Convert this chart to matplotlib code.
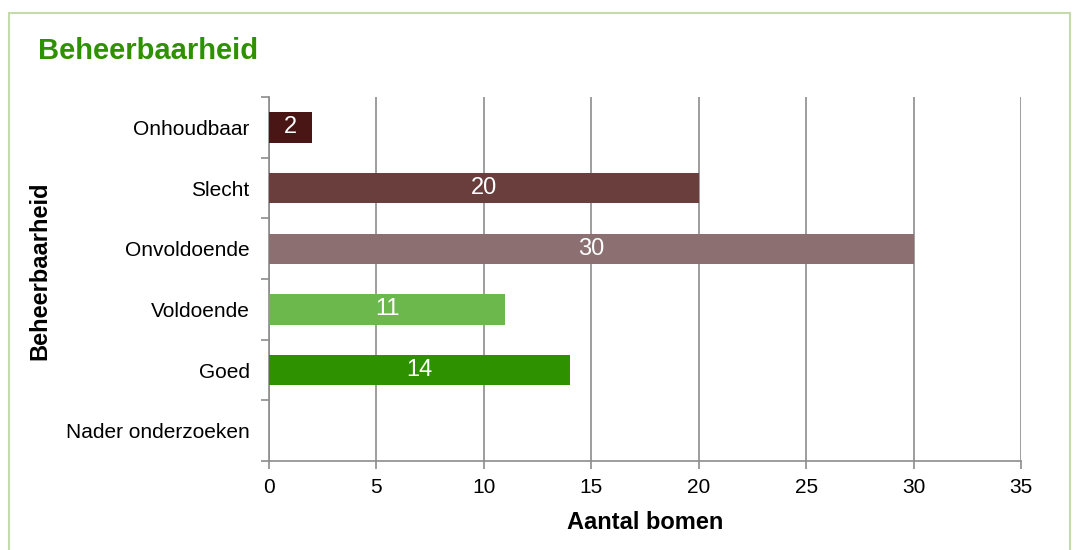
import matplotlib.pyplot as plt
from matplotlib.patches import Rectangle

plt.rcParams['font.family'] = ['Liberation Sans', 'DejaVu Sans']

categories = ['Onhoudbaar', 'Slecht', 'Onvoldoende', 'Voldoende', 'Goed', 'Nader onderzoeken']
values = [2, 20, 30, 11, 14, 0]
colors = ['#4a1515', '#6b3e3e', '#8c6f70', '#6db84d', '#2e9200', '#ffffff']

grid_col = '#8c8c8c'

fig = plt.figure(figsize=(10.81, 5.50), dpi=100)
fig.patches.append(Rectangle((9 / 1081, -0.1), 1061 / 1081, 1.1 - 13 / 550,
                             transform=fig.transFigure, fill=False,
                             edgecolor='#c5dbab', linewidth=1.5))

ax = fig.add_axes([269 / 1081, 1 - 461 / 550, 752 / 1081, 364 / 550])
pos = list(range(len(categories)))
ax.barh(pos, values, height=0.5, color=colors, zorder=3)
for p, v in zip(pos, values):
    if v > 0:
        ax.text(v / 2, p, str(v), color='white', fontsize=17,
                ha='center', va='center', zorder=4)

ax.set_xlim(0, 35)
ax.set_ylim(len(categories) - 0.5, -0.5)
ax.set_xticks(range(0, 36, 5))
ax.set_yticks([p + 0.5 for p in [-1] + pos], minor=False)
ax.set_yticklabels([])
ax.set_yticks(pos, minor=True)
ax.set_yticklabels(categories, minor=True, fontsize=15)
ax.tick_params(axis='y', which='minor', length=0, pad=14)
ax.tick_params(axis='y', which='major', length=6, color=grid_col, width=1.2)
ax.tick_params(axis='x', length=6, color=grid_col, width=1.2, labelsize=15, pad=6)
ax.grid(axis='x', color=grid_col, linewidth=1.2, zorder=0)
for s in ['top', 'right']:
    ax.spines[s].set_visible(False)
for s in ['left', 'bottom']:
    ax.spines[s].set_color(grid_col)
    ax.spines[s].set_linewidth(1.2)

ax.set_xlabel('Aantal bomen', fontsize=17, fontweight='bold', labelpad=10)
fig.text(40 / 1081, 1 - 271 / 550, 'Beheerbaarheid', rotation=90, fontsize=17,
         fontweight='bold', ha='center', va='center')
fig.text(38 / 1081, 1 - 51 / 550, 'Beheerbaarheid', fontsize=21,
         fontweight='bold', color='#2e9200', ha='left', va='center')

fig.savefig('out.png', dpi=100)
